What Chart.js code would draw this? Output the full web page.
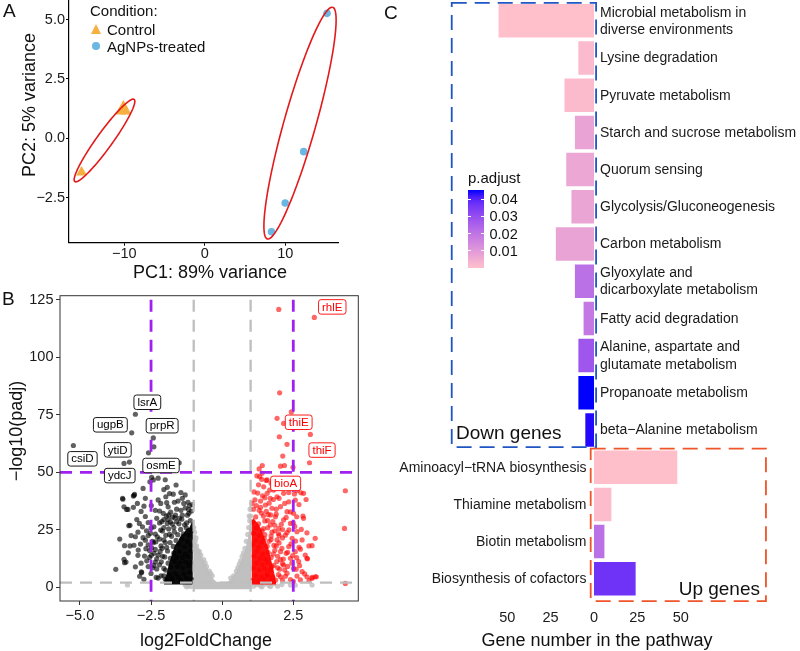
<!DOCTYPE html>
<html lang="en">
<head>
<meta charset="UTF-8" />
<title>AgNPs transcriptome</title>
<script src="https://cdn.jsdelivr.net/npm/chart.js@4.4.0/dist/chart.umd.min.js"></script>
<style>
  body { margin: 0; width: 800px; height: 651px; position: relative; overflow: hidden; background: #fff;
         font-family: 'Liberation Sans', Arial, sans-serif; color: #111; }
  canvas { position: absolute; }
  .t { position: absolute; white-space: nowrap; line-height: 1; }
</style>
</head>
<body>
<canvas id="pca" width="380" height="320" style="left:0;top:-40px"></canvas>
<canvas id="volcano" width="380" height="371" style="left:0;top:280px"></canvas>
<canvas id="kegg" width="420" height="651" style="left:380px;top:0"></canvas>

<!-- panel letters -->
<div class="t" style="left:3px;top:10px;font-size:19px;transform:translateY(-50%)">A</div>
<div class="t" style="left:2px;top:298px;font-size:19px;transform:translateY(-50%)">B</div>
<div class="t" style="left:384px;top:12px;font-size:19px;transform:translateY(-50%)">C</div>

<!-- A legend -->
<div class="t" style="left:90px;top:10px;font-size:15px;transform:translateY(-50%)">Condition:</div>
<div style="position:absolute;left:90.5px;top:23.5px;width:0;height:0;border-left:5.6px solid transparent;border-right:5.6px solid transparent;border-bottom:10px solid #F5B041"></div>
<div class="t" style="left:107px;top:29px;font-size:15px;transform:translateY(-50%)">Control</div>
<div style="position:absolute;left:92.2px;top:42.2px;width:7.6px;height:7.6px;border-radius:50%;background:#6BB7E4"></div>
<div class="t" style="left:107px;top:46px;font-size:15px;transform:translateY(-50%)">AgNPs-treated</div>

<!-- axis titles -->
<div class="t" style="left:210px;top:272px;font-size:18px;transform:translate(-50%,-50%)">PC1: 89% variance</div>
<div class="t" style="left:29px;top:105px;font-size:18px;transform:translate(-50%,-50%) rotate(-90deg)">PC2: 5% variance</div>
<div class="t" style="left:206px;top:640px;font-size:18px;transform:translate(-50%,-50%)">log2FoldChange</div>
<div class="t" style="left:16px;top:431px;font-size:18px;transform:translate(-50%,-50%) rotate(-90deg)">&minus;log10(padj)</div>
<div class="t" style="left:597px;top:640px;font-size:18px;transform:translate(-50%,-50%)">Gene number in the pathway</div>

<!-- C annotations -->
<div class="t" style="left:456px;top:432px;font-size:19px;transform:translateY(-50%)">Down genes</div>
<div class="t" style="left:760px;top:588px;font-size:19px;transform:translate(-100%,-50%)">Up genes</div>
<div class="t" style="left:468px;top:177px;font-size:15px;transform:translateY(-50%)">p.adjust</div>
<div id="cbar" style="position:absolute;left:468.3px;top:190px;width:15.7px;height:78px"></div>

<script>
// ---------- data: A (PCA) ----------
const controlPC1 = [-10.1, -10.43, -9.78, -15.3];
const controlPC2 = [1.35, 1.14, 1.14, -1.43];
const treatedPC1 = [15.2, 12.3, 10.0, 8.3];
const treatedPC2 = [5.26, -0.56, -2.72, -3.93];
const pcaXTicks = [-10, 0, 10];
const pcaYTicks = [-2.5, 0, 2.5, 5];

// ---------- data: B (volcano) ----------
const downPts = [
  [-5.23,61.7],[-3.05,75.3],[-3.18,67.2],[-2.42,65.0],[-2.40,61.1],[-2.59,58.5],[-3.45,53.9],[-3.26,54.5],
  [-1.51,54.2],[-2.48,47.8],[-2.54,45.9],[-2.42,46.7],[-1.93,43.5],[-3.50,38.7],[-3.12,39.7],[-2.70,38.7],
  [-1.98,39.4],[-1.40,38.7],[-3.10,40.0],[-3.45,35.0],[-3.31,33.9],[-3.12,34.8],[-2.98,36.5],[-2.75,35.3],
  [-2.49,35.6],[-2.16,36.5],[-1.95,36.8],[-2.07,32.2],[-1.81,32.7],[-1.64,31.4],[-1.40,31.4],[-1.17,32.2],
  [-3.24,27.0],[-2.91,27.8],[-2.80,26.3],[-2.66,24.6],[-2.96,24.0],[-3.05,22.0],[-2.52,23.5],[-2.87,18.8],
  [-3.10,18.3],[-3.24,18.0],[-2.96,13.9],[-2.73,13.6],[-2.49,13.9],[-3.45,12.2],[-3.38,11.0],[-3.74,7.8],
  [-2.84,6.7],[-2.32,4.3],[-2.40,26.3],[-2.28,22.0],[-2.42,19.4],[-2.16,24.9],[-1.93,27.8],[-2.11,17.0],
  [-2.14,11.1],[-1.99,7.5],[-3.28,26.8],[-3.43,18.1],[-3.43,10.7],[-2.83,6.4],[-3.49,38.3],[-3.36,33.9],
  [-3.08,40.4],[-2.3,30],[-2.2,28],[-2.05,26],[-1.9,29.5],[-1.75,30.5],[-1.6,28.5],[-1.45,33.5],[-1.3,34.5],
  [-1.15,35.5],[-2.45,20],[-2.35,16.5],[-2.25,14],[-2.4,9.5],[-2.6,9],[-2.5,6],[-2.0,3.5],[-2.7,20.5],
  [-2.55,16],[-2.2,21],[-2.0,19.5],[-1.85,23],[-1.7,26],[-1.5,30],[-1.2,37],[-2.1,13.5],[-2.3,8],[-2.15,5],
  [-1.8,2.8],[-2.65,11.5],[-2.6,22.5],[-1.35,36.5],[-1.6,34],[-1.75,27.5],[-2.05,29.5],[-1.88,31.5],
  [-1.55,37.5],[-1.25,28],[-1.05,36],[-2.35,33.5],[-2.25,38],[-1.72,40.5],[-2.05,42.5],[-1.62,44.5],
  [-2.0,46.8],[-2.78,43],[-2.25,47.5],
  [-2.25,4],[-2.05,5],[-1.95,3.2],[-1.85,5.5],[-1.75,3.8],[-1.65,6],[-1.55,4.5],[-1.45,3],[-1.35,5.8],
  [-1.25,4],[-1.15,6.5],[-1.08,3.5],[-2.45,8.5],[-2.35,11],[-2.2,9.8],[-2.05,8.2],[-1.9,10.5],[-1.8,8.8],
  [-1.68,11.2],[-1.58,9],[-1.48,10.6],[-1.38,8.4],[-1.28,11],[-1.18,9.3],[-1.1,10.8],[-2.55,13],[-2.4,14.8],
  [-2.3,12.4],[-2.18,15.6],[-2.02,13.2],[-1.92,15.8],[-1.82,12.6],[-1.7,14.9],[-1.6,13.1],[-1.5,15.5],
  [-1.4,12.9],[-1.3,14.6],[-1.2,13.4],[-1.12,15.9],[-2.6,18.5],[-2.48,17.2],[-2.33,19.8],[-2.15,18],
  [-2.05,20.6],[-1.95,17.4],[-1.83,19.5],[-1.72,17.8],[-1.62,20.4],[-1.52,18.6],[-1.42,20.9],[-1.32,17.6],
  [-1.22,19.9],[-1.1,18.3],[-2.5,25.8],[-2.35,23.2],[-2.1,24.5],[-1.98,22.6],[-1.88,25.4],[-1.78,22.2],
  [-1.68,24.1],[-1.56,22.9],[-1.46,25.2],[-1.36,23.3],[-1.26,25.9],[-1.16,22.8],[-1.08,24.7],[-2.12,28.6],
  [-1.96,31],[-1.82,28.4],[-1.66,30.2],[-1.52,27.6],[-1.42,29.6],[-1.32,27.2],[-1.22,31.4],[-1.12,29],
  [-1.08,33.2],[-1.18,33.8],[-2.85,10.5],[-2.95,16.2],[-3.0,29.5],[-2.7,30.8],[-2.85,33],[-2.6,28.2],
  [-3.2,22.5],[-3.6,21],[-3.3,15],[-2.75,3.5],[-3.05,8.9],[-2.9,4.8],[-2.68,16.8],[-2.78,21.6],[-2.2,33.2],
  [-1.9,35],[-1.68,37],[-1.45,41.2],[-1.3,40.2],[-1.85,40.8]
];
const upPts = [
  [1.99,120.9],[3.24,117.4],[2.02,84.6],[2.43,76.3],[1.93,73.5],[2.16,71.3],[2.01,65.5],[3.10,66.5],
  [2.28,62.2],[2.13,57.1],[3.07,54.2],[1.41,53.0],[2.05,52.7],[2.19,53.0],[2.49,52.2],[1.40,49.6],
  [1.39,47.0],[4.33,42.0],[4.30,25.6],[3.0,12.4],[3.05,18.0],[3.16,4.3],[3.31,4.6],[4.33,1.7],[2.78,25.2],
  [2.84,31.0],[2.77,41.1],[2.63,42.0],[1.46,43.7],[1.58,40.9],[1.81,42.3],[1.69,38.7],[1.93,39.4],
  [2.16,40.9],[2.34,37.2],[2.57,37.9],[1.52,35.8],[1.75,34.4],[2.05,35.1],[2.28,32.9],[2.51,32.2],
  [1.87,30.7],[2.16,29.3],[2.40,27.8],[1.69,27.1],[1.99,25.6],[2.63,24.2],[2.22,22.7],[2.46,21.3],
  [2.81,20.6],[1.93,20.6],[2.34,17.7],[2.57,15.5],[2.05,15.5],[2.92,14.0],[2.40,12.6],[2.69,11.2],
  [2.16,9.7],[2.51,8.2],[2.81,6.8],[2.28,6.1],[2.63,4.9],[2.98,4.6],[2.40,3.4],[2.75,3.2],[2.05,4.6],
  [1.32,48.1],[1.58,46.7],[1.93,46.7],[2.34,41.2],[2.54,40.6],[1.67,42.3],[2.86,30.0],[2.98,23.7],
  [3.27,21.3],[3.16,18.1],[2.98,12.6],[2.86,40.9],[2.67,43.0],[3.16,3.9],[3.27,4.6],[1.1,34],[1.2,35.5],
  [1.3,33.5],[1.45,31],[1.6,29],[1.75,24],[1.9,18],[2.05,12],[2.2,7.5],[1.35,37.5],[1.55,33],[1.7,31.5],
  [1.85,27],[2.0,22.5],[1.15,38],[1.25,41],[1.5,39],[1.05,36.5],[1.8,14.5],[1.95,8.5],[2.1,17],[1.65,20],
  [1.75,9],[1.6,5],[2.35,25],[2.25,14.8],[1.45,25.5],[2.5,28],[2.2,36.5],[1.9,34],
  [1.08,3],[1.18,5.2],[1.28,2.8],[1.38,4.6],[1.48,3.3],[1.58,5.8],[1.68,2.6],[1.78,4.4],[1.88,3.1],
  [1.98,5.5],[2.12,3],[2.22,4.8],[2.5,2.6],[2.9,5.8],[3.05,2.9],[1.1,8.4],[1.2,10.6],[1.3,7.6],[1.4,9.9],
  [1.5,8.1],[1.6,10.8],[1.7,7.4],[1.82,9.6],[1.92,11.2],[2.02,7.9],[2.12,10.2],[2.3,9.1],[2.45,10.5],
  [2.6,7.8],[2.72,9.4],[1.12,13.6],[1.22,15.8],[1.32,12.5],[1.42,14.4],[1.52,12.2],[1.62,15.1],[1.72,13],
  [1.85,16.1],[1.95,13.5],[2.15,12.3],[2.3,15.2],[2.48,13.8],[2.62,12.9],[2.75,16.6],[1.08,18.6],
  [1.18,20.3],[1.28,17.5],[1.38,19.6],[1.48,21.2],[1.58,17.9],[1.72,20.8],[1.82,18.2],[2.0,19.3],
  [2.12,21.5],[2.42,18.9],[2.58,20.1],[2.7,17.4],[1.1,23.5],[1.2,25.8],[1.3,22.4],[1.4,24.6],[1.5,22.9],
  [1.6,25.9],[1.72,22.3],[1.85,24.6],[1.98,23.4],[2.12,25.1],[2.28,23.8],[2.55,26.5],[1.08,28.2],
  [1.18,30.6],[1.28,27.6],[1.38,32.3],[1.5,28.9],[1.62,31.6],[1.78,28.6],[1.9,31.8],[2.08,27.4],
  [2.25,30.4],[2.4,32.8],[2.62,30.7],[1.12,41.5],[1.28,44.6],[1.42,39.8],[1.65,36.6],[1.8,38.2],[2.0,38.7],
  [2.1,44.2],[2.25,43.6],[2.45,45.5],[1.55,46.5],[1.35,34.8],[1.72,45.3],[2.7,36],[2.95,38.2],[1.22,48.5],
  [1.3,51.5]
];
const nsPts = [
  [-1.0,22],[-0.95,20],[-0.9,18],[-0.85,16],[-0.8,15.5],[-0.75,14],[-0.65,12],[-0.6,10.5],[-0.55,9],
  [-0.45,7],[-0.4,6],[-0.35,5],[-0.97,24],[-1.0,26],[-0.92,21.5],[0.3,4],[0.4,5],[0.5,7],[0.55,8.5],
  [0.6,10],[0.65,11.5],[0.7,13.5],[0.75,15],[0.8,17],[0.85,20],[0.9,23],[0.93,26],[0.97,29],[1.0,31],
  [0.98,34],[0.95,31],[-1.3,1.0],[-1.2,0.6],[-1.15,1.5],[-1.1,0.3],[1.1,0.5],[1.2,1.2],[1.35,0.6],
  [1.5,1.4],[1.65,0.8],[1.8,1.5],[1.95,0.5],[2.1,1.2],[2.4,1.0],[2.57,0.9],[3.16,1.0],[-3.33,1.0],
  [1.25,1.8],[1.4,0.2],[1.7,0.3],[-1.25,0.2]
];
// dense cores (upper envelope of the packed points)
const downCore = [[-2.05,2],[-1.95,6],[-1.85,11],[-1.75,15],[-1.65,18.5],[-1.55,20],[-1.45,22.5],[-1.35,23.5],[-1.25,25.5],[-1.15,26],[-1.08,28],[-1.03,28.5]];
const upCore = [[1.03,29],[1.1,30],[1.2,28.5],[1.3,27],[1.4,24.5],[1.5,21],[1.6,18],[1.7,13],[1.8,8],[1.9,2]];
const nsCore = [[-1.02,22],[-0.9,19],[-0.8,16],[-0.7,13],[-0.6,10.5],[-0.5,8],[-0.4,5.5],[-0.3,3.5],[-0.2,2.4],
  [0.2,2.4],[0.3,3.5],[0.4,5],[0.5,7],[0.6,9.5],[0.7,12.5],[0.8,16],[0.9,21],[0.97,27],[1.02,31]];
const geneLabels = [
  {name:'rhlE', x:3.87, y:122.0, up:true}, {name:'thiE', x:2.69, y:71.8, up:true},
  {name:'thiF', x:3.51, y:59.7, up:true}, {name:'bioA', x:2.23, y:45.2, up:true},
  {name:'lsrA', x:-2.63, y:80.5, up:false}, {name:'ugpB', x:-3.93, y:70.7, up:false},
  {name:'prpR', x:-2.11, y:70.3, up:false}, {name:'ytiD', x:-3.67, y:59.8, up:false},
  {name:'csiD', x:-4.91, y:55.9, up:false}, {name:'osmE', x:-2.15, y:53.0, up:false},
  {name:'ydcJ', x:-3.60, y:48.6, up:false}
];
const fcCut = [-1, 1], fcStrong = [-2.5, 2.5], padjCut = 2, padjStrong = 50;
const volXTicks = [-5, -2.5, 0, 2.5];
const volYTicks = [0, 25, 50, 75, 100, 125];

// ---------- data: C (KEGG) ----------
const downPathways = ['Microbial metabolism in\ndiverse environments', 'Lysine degradation', 'Pyruvate metabolism',
  'Starch and sucrose metabolism', 'Quorum sensing', 'Glycolysis/Gluconeogenesis', 'Carbon metabolism',
  'Glyoxylate and\ndicarboxylate metabolism', 'Fatty acid degradation', 'Alanine, aspartate and\nglutamate metabolism',
  'Propanoate metabolism', 'beta\u2212Alanine metabolism'];
const downCounts = [55, 9, 17, 11, 16, 13, 22, 11, 6, 9, 9, 5];
const downPadj = [0.00001, 0.0015, 0.0012, 0.0075, 0.0065, 0.007, 0.0075, 0.021, 0.019, 0.028, 0.0454, 0.0445];
const upPathways = ['Aminoacyl\u2212tRNA biosynthesis', 'Thiamine metabolism', 'Biotin metabolism', 'Biosynthesis of cofactors'];
const upCounts = [48, 10, 6, 24];
const upPadj = [0.0003, 0.001, 0.021, 0.037];
const keggTicks = [-50, -25, 0, 25, 50];
const padjTicks = [0.01, 0.02, 0.03, 0.04];

// ---------- helpers ----------
Chart.defaults.font.family = "'Liberation Sans', Arial, sans-serif";
Chart.defaults.color = '#1a1a1a';
const fmt = (v, d) => v.toFixed(d).replace('-', '\u2212');
const fixTicks = arr => s => { s.ticks = arr.map(v => ({ value: v })); };
const toXY = arr => arr.map(p => ({ x: p[0], y: p[1] }));

// pink -> blue in CIELAB, like ggplot's gradient
const lin = c => { c /= 255; return c <= 0.04045 ? c / 12.92 : Math.pow((c + 0.055) / 1.055, 2.4); };
const delin = c => { const v = c <= 0.0031308 ? 12.92 * c : 1.055 * Math.pow(c, 1 / 2.4) - 0.055; return Math.round(Math.max(0, Math.min(1, v)) * 255); };
const Wn = [0.95047, 1, 1.08883];
function toLab(rgb) {
  const [r, g, b] = rgb.map(lin);
  const X = 0.4124 * r + 0.3576 * g + 0.1805 * b, Y = 0.2126 * r + 0.7152 * g + 0.0722 * b, Z = 0.0193 * r + 0.1192 * g + 0.9505 * b;
  const f = t => t > 0.008856 ? Math.cbrt(t) : 7.787 * t + 16 / 116;
  const fx = f(X / Wn[0]), fy = f(Y / Wn[1]), fz = f(Z / Wn[2]);
  return [116 * fy - 16, 500 * (fx - fy), 200 * (fy - fz)];
}
function fromLab([L, a, bb]) {
  const fy = (L + 16) / 116, fx = fy + a / 500, fz = fy - bb / 200;
  const fi = t => t > 0.206893 ? t * t * t : (t - 16 / 116) / 7.787;
  const X = fi(fx) * Wn[0], Y = fi(fy), Z = fi(fz) * Wn[2];
  const r = 3.2406 * X - 1.5372 * Y - 0.4986 * Z, g = -0.9689 * X + 1.8758 * Y + 0.0415 * Z, b = 0.0557 * X - 0.2040 * Y + 1.0570 * Z;
  return `rgb(${delin(r)},${delin(g)},${delin(b)})`;
}
const labLow = toLab([255, 192, 203]), labHigh = toLab([0, 0, 255]);
const allPadj = [...downPadj, ...upPadj];
const pMin = Math.min(...allPadj), pMax = Math.max(...allPadj);
function padjColor(p) {
  const t = (p - pMin) / (pMax - pMin);
  return fromLab(labLow.map((v, i) => v + (labHigh[i] - v) * t));
}

// ---------- A: PCA ----------
const ellipses = [
  { cx: -12.45, cy: -0.09, ax: 3.68, ay: 1.73, bx: 0.81, by: -0.19 },
  { cx: 11.84, cy: 0.64, ax: 4.06, ay: 4.875, bx: 1.91, by: -0.18 }
];
const ellipsePlugin = {
  id: 'ellipses',
  afterDatasetsDraw(chart) {
    const { ctx, scales: { x, y } } = chart;
    ctx.save();
    ctx.strokeStyle = '#E31A1C';
    ctx.lineWidth = 1.6;
    for (const e of ellipses) {
      ctx.beginPath();
      for (let i = 0; i <= 120; i++) {
        const t = i / 120 * Math.PI * 2;
        const px = x.getPixelForValue(e.cx + Math.cos(t) * e.ax + Math.sin(t) * e.bx);
        const py = y.getPixelForValue(e.cy + Math.cos(t) * e.ay + Math.sin(t) * e.by);
        i ? ctx.lineTo(px, py) : ctx.moveTo(px, py);
      }
      ctx.stroke();
    }
    ctx.restore();
  }
};

new Chart(document.getElementById('pca'), {
  type: 'scatter',
  data: {
    datasets: [
      { label: 'Control', data: controlPC1.map((v, i) => ({ x: v, y: controlPC2[i] })),
        pointStyle: 'triangle', pointRadius: 6.3, backgroundColor: '#F5B041', borderWidth: 0 },
      { label: 'AgNPs-treated', data: treatedPC1.map((v, i) => ({ x: v, y: treatedPC2[i] })),
        pointStyle: 'circle', pointRadius: 3.8, backgroundColor: '#6BB7E4', borderWidth: 0 }
    ]
  },
  options: {
    responsive: false, animation: false, events: [],
    layout: { padding: { left: 0, top: 7, right: 42, bottom: 0 } },
    plugins: { legend: { display: false }, tooltip: { enabled: false } },
    scales: {
      x: { type: 'linear', min: -16.86, max: 16.56, afterBuildTicks: fixTicks(pcaXTicks),
           afterFit: s => { s.height = 37.3; },
           grid: { drawOnChartArea: false, tickLength: 3, color: '#000' },
           border: { color: '#000', width: 1.2 },
           ticks: { font: { size: 14.5 }, padding: 0, callback: v => fmt(v, 0) } },
      y: { type: 'linear', min: -4.392, max: 7.096, afterBuildTicks: fixTicks(pcaYTicks),
           afterFit: s => { s.width = 69; },
           grid: { drawOnChartArea: false, tickLength: 3, color: '#000' },
           border: { color: '#000', width: 1.2 },
           ticks: { font: { size: 14.5 }, padding: 1, callback: v => fmt(v, 1) } }
    }
  },
  plugins: [ellipsePlugin]
});

// ---------- B: volcano ----------
const volcanoPlugin = {
  id: 'volcanoDecor',
  afterDatasetsDraw(chart) {
    const { ctx, chartArea: a, scales: { x, y } } = chart;
    ctx.save();
    ctx.beginPath(); ctx.rect(a.left, a.top, a.right - a.left, a.bottom - a.top); ctx.clip();
    const vline = (v, c, w) => { const p = x.getPixelForValue(v); ctx.strokeStyle = c; ctx.lineWidth = w; ctx.beginPath(); ctx.moveTo(p, a.top + 4); ctx.lineTo(p, a.bottom); ctx.stroke(); };
    const hline = (v, c, w) => { const p = y.getPixelForValue(v); ctx.strokeStyle = c; ctx.lineWidth = w; ctx.beginPath(); ctx.moveTo(a.left, p); ctx.lineTo(a.right, p); ctx.stroke(); };
    ctx.setLineDash([12, 8]);
    fcCut.forEach(v => vline(v, '#BEBEBE', 2.3));
    hline(padjCut, '#BEBEBE', 2.3);
    fcStrong.forEach(v => vline(v, '#A020F0', 2.8));
    hline(padjStrong, '#A020F0', 2.8);
    ctx.setLineDash([]);
    // gene labels
    ctx.font = "11.5px 'Liberation Sans', Arial, sans-serif";
    ctx.textAlign = 'center'; ctx.textBaseline = 'middle';
    for (const g of geneLabels) {
      const px = x.getPixelForValue(g.x), py = y.getPixelForValue(g.y);
      const w = ctx.measureText(g.name).width + 7, h = 14.5;
      const col = g.up ? '#FF0000' : '#000';
      ctx.beginPath(); ctx.roundRect(px - w / 2, py - h / 2, w, h, 2.5);
      ctx.fillStyle = '#fff'; ctx.fill();
      ctx.strokeStyle = col; ctx.lineWidth = 0.9; ctx.stroke();
      ctx.fillStyle = col; ctx.fillText(g.name, px, py + 0.5);
    }
    ctx.restore();
    ctx.save();
    ctx.strokeStyle = '#333'; ctx.lineWidth = 1;
    ctx.strokeRect(a.left, a.top, a.right - a.left, a.bottom - a.top);
    ctx.restore();
  }
};
const coreSet = (pts, color, base, order) => ({ type: 'line', data: toXY(pts), showLine: true, pointRadius: 0,
  borderWidth: 0, tension: 0, fill: { value: base }, backgroundColor: color, order });
const ptSet = (pts, color, order) => ({ type: 'scatter', data: toXY(pts), pointRadius: 2.6, borderWidth: 0,
  backgroundColor: color, order });

new Chart(document.getElementById('volcano'), {
  type: 'scatter',
  data: {
    datasets: [
      coreSet(nsCore, 'rgb(192,192,192)', -0.8, 6),
      ptSet(nsPts, 'rgba(190,190,190,0.8)', 5),
      coreSet(downCore, 'rgba(0,0,0,0.95)', 1.2, 4),
      ptSet(downPts, 'rgba(0,0,0,0.62)', 3),
      coreSet(upCore, 'rgba(255,0,0,0.92)', 1.2, 2),
      ptSet(upPts, 'rgba(255,0,0,0.6)', 1)
    ]
  },
  options: {
    responsive: false, animation: false, events: [],
    layout: { padding: { left: 0, top: 15.7, right: 21.7, bottom: 0 } },
    plugins: { legend: { display: false }, tooltip: { enabled: false } },
    scales: {
      x: { type: 'linear', min: -5.70, max: 4.785, afterBuildTicks: fixTicks(volXTicks),
           afterFit: s => { s.height = 50; },
           grid: { drawOnChartArea: false, tickLength: 4, color: '#333' }, border: { display: false },
           ticks: { font: { size: 14.5 }, padding: 2, callback: v => fmt(v, 1) } },
      y: { type: 'linear', min: -5.96, max: 126.87, afterBuildTicks: fixTicks(volYTicks),
           afterFit: s => { s.width = 60; },
           grid: { drawOnChartArea: false, tickLength: 4, color: '#333' }, border: { display: false },
           ticks: { font: { size: 14.5 }, padding: 2.5, callback: v => fmt(v, 0) } }
    }
  },
  plugins: [volcanoPlugin]
});

// ---------- C: KEGG bars ----------
const pathways = [...downPathways, ...upPathways];
const counts = [...downCounts.map(v => -v), ...upCounts];
const barColors = allPadj.map(padjColor);
const boxes = [
  { x0: -82, x1: 1.2, y0: -0.48, y1: 11.46, color: '#1F55C4' },
  { x0: -1.9, x1: 99.1, y0: 11.5, y1: 15.6, color: '#F0542A' }
];
const keggPlugin = {
  id: 'keggDecor',
  afterDatasetsDraw(chart) {
    const { ctx, scales: { x, y } } = chart;
    const zero = x.getPixelForValue(0);
    ctx.save();
    ctx.font = "14px 'Liberation Sans', Arial, sans-serif";
    ctx.fillStyle = '#1a1a1a'; ctx.textBaseline = 'middle';
    pathways.forEach((name, i) => {
      const lines = name.split('\n');
      const cy = y.getPixelForValue(i);
      const down = i < downPathways.length;
      ctx.textAlign = down ? 'left' : 'right';
      const tx = down ? zero + 6 : zero - 7.5;
      lines.forEach((ln, k) => ctx.fillText(ln, tx, cy + (k - (lines.length - 1) / 2) * 17.3 + 0.5));
    });
    ctx.setLineDash([15, 8]);
    ctx.lineWidth = 1.8;
    for (const b of boxes) {
      const l = x.getPixelForValue(b.x0), r = x.getPixelForValue(b.x1);
      const t = y.getPixelForValue(b.y0), btm = y.getPixelForValue(b.y1);
      ctx.strokeStyle = b.color;
      ctx.strokeRect(l, t, r - l, btm - t);
    }
    ctx.restore();
  }
};

new Chart(document.getElementById('kegg'), {
  type: 'bar',
  data: {
    labels: pathways,
    datasets: [{ data: counts, backgroundColor: barColors, borderWidth: 0,
                 barPercentage: 0.9, categoryPercentage: 1 }]
  },
  options: {
    indexAxis: 'y', responsive: false, animation: false, events: [],
    layout: { padding: { left: 2, top: 2.2, right: 2, bottom: 0 } },
    plugins: { legend: { display: false }, tooltip: { enabled: false } },
    scales: {
      x: { type: 'linear', min: -122.19, max: 117.58, afterBuildTicks: fixTicks(keggTicks),
           afterFit: s => { s.height = 53.6; },
           grid: { display: false }, border: { display: false },
           ticks: { font: { size: 14.5 }, padding: 4, callback: v => String(Math.abs(v)) } },
      y: { type: 'category', display: false }
    }
  },
  plugins: [keggPlugin]
});

// p.adjust colour bar
const cbar = document.getElementById('cbar');
const stops = [];
for (let i = 0; i <= 10; i++) stops.push(`${padjColor(pMax - (pMax - pMin) * i / 10)} ${i * 10}%`);
cbar.style.background = `linear-gradient(to bottom, ${stops.join(',')})`;
padjTicks.forEach(v => {
  const top = 190 + (pMax - v) / (pMax - pMin) * 78;
  const lab = document.createElement('div');
  lab.className = 't';
  lab.style.cssText = `left:489.5px;top:${top}px;font-size:14.5px;transform:translateY(-50%)`;
  lab.textContent = v.toFixed(2);
  document.body.appendChild(lab);
  for (const side of [0, 12.6]) {
    const tk = document.createElement('div');
    tk.style.cssText = `position:absolute;left:${468.3 + side}px;top:${top - 0.5}px;width:3.1px;height:1px;background:#fff`;
    document.body.appendChild(tk);
  }
});
</script>
</body>
</html>
